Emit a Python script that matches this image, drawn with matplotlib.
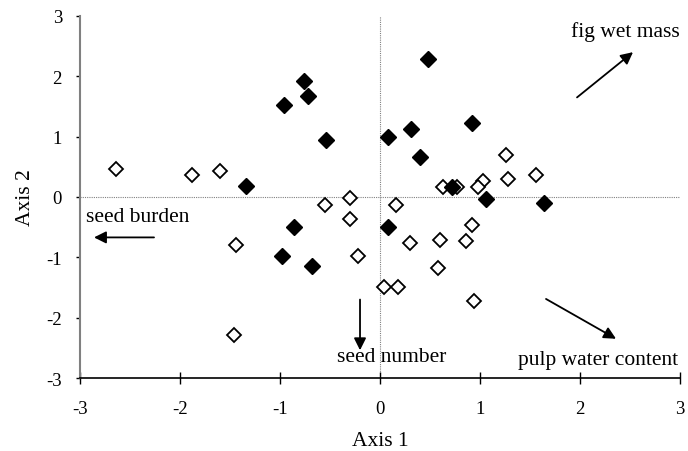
import matplotlib as mpl
mpl.use('Agg')
import matplotlib.pyplot as plt

plt.rcParams['font.family'] = ['Liberation Serif', 'DejaVu Serif']
plt.rcParams['axes.unicode_minus'] = False

# filled diamonds
filled_x = [-1.34, -0.96, -0.76, -0.72, -0.54, 0.48, 0.08, 0.31, 0.92, 0.40, 0.72,
            1.06, 1.64, 0.08, -0.86, -0.98, -0.68]
filled_y = [0.19, 1.52, 1.92, 1.68, 0.95, 2.28, 0.99, 1.12, 1.22, 0.66, 0.16,
            -0.04, -0.10, -0.50, -0.50, -0.97, -1.14]

# open diamonds
open_x = [-2.64, -1.88, -1.60, -0.30, -0.55, -0.30, -1.44, -0.22, -1.46,
          1.26, 1.56, 1.28, 1.03, 0.98, 0.63, 0.77, 0.16, 0.92, 0.30, 0.60,
          0.86, 0.58, 0.04, 0.18, 0.94]
open_y = [0.46, 0.36, 0.43, -0.01, -0.14, -0.37, -0.80, -0.97, -2.29,
          0.69, 0.36, 0.29, 0.27, 0.17, 0.16, 0.17, -0.14, -0.47, -0.77, -0.72,
          -0.73, -1.17, -1.49, -1.49, -1.73]

# vectors (tail -> head) and their labels
vec_names = ['fig wet mass', 'seed burden', 'seed number', 'pulp water content']
vec_tail = [(1.97, 1.65), (-2.26, -0.67), (-0.20, -1.70), (1.66, -1.69)]
vec_head = [(2.53, 2.40), (-2.86, -0.67), (-0.20, -2.54), (2.36, -2.35)]
label_pos = [(3.0, 2.75), (-2.94, -0.32), (-0.43, -2.64), (2.98, -2.69)]
label_ha = ['right', 'left', 'left', 'right']

fig = plt.figure(figsize=(6.88, 4.52), dpi=100)
ax = fig.add_axes([0.1163, 0.1615, 0.8721, 0.801])

ax.axhline(0, color='#808080', lw=0.8, ls=(0, (1, 1)), zorder=1)
ax.axvline(0, color='#808080', lw=0.8, ls=(0, (1, 1)), zorder=1)

ax.plot(open_x, open_y, 'D', ms=7.5, mfc='white', mec='black', mew=1.3, ls='none', zorder=3)
ax.plot(filled_x, filled_y, 'D', ms=8.5, mfc='black', mec='black', ls='none', zorder=4)

for t, h in zip(vec_tail, vec_head):
    ax.annotate('', xy=h, xytext=t,
                arrowprops=dict(arrowstyle='-|>', color='black', lw=1.3,
                                mutation_scale=18, shrinkA=0, shrinkB=0))
for name, p, ha in zip(vec_names, label_pos, label_ha):
    ax.text(p[0], p[1], name, ha=ha, va='center', fontsize=15.5)

ax.set_xlim(-3, 3)
ax.set_ylim(-3, 3)
ax.set_xticks([-3, -2, -1, 0, 1, 2, 3])
ax.set_yticks([-3, -2, -1, 0, 1, 2, 3])
ax.tick_params(axis='x', direction='inout', length=8, width=1, labelsize=13.5, pad=12)
ax.tick_params(axis='y', direction='out', length=3, width=1, labelsize=13.5, pad=10)
for s in ['top', 'right']:
    ax.spines[s].set_visible(False)
ax.spines['left'].set_color('#808080')
ax.spines['left'].set_linewidth(1.5)
ax.spines['bottom'].set_color('black')
ax.spines['bottom'].set_linewidth(1.2)

ax.set_xlabel('Axis 1', fontsize=15.5, labelpad=10)
ax.set_ylabel('Axis 2', fontsize=15.5, labelpad=8)

plt.savefig('out.png', dpi=100)
